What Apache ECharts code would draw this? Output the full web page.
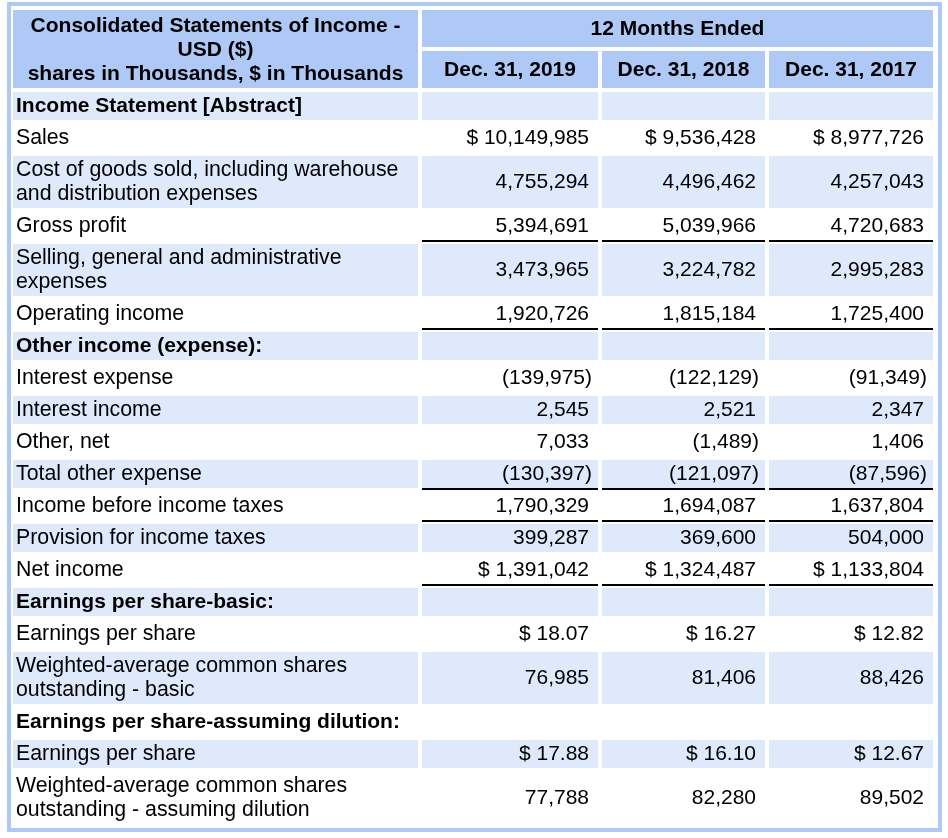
<!DOCTYPE html>
<html><head><meta charset="utf-8">
<script src="https://cdn.jsdelivr.net/npm/echarts@6/dist/echarts.min.js"></script>
<style>html,body{margin:0;padding:0;background:#fff}#c{width:948px;height:838px}</style>
</head><body><div id="c"></div>
<script>
// ---------- data ----------
const titleLines = ['Consolidated Statements of Income -', 'USD ($)', 'shares in Thousands, $ in Thousands'];
const periodHeader = '12 Months Ended';
const periods = ['Dec. 31, 2019', 'Dec. 31, 2018', 'Dec. 31, 2017'];
const rowLabels = [
  'Income Statement [Abstract]',
  'Sales',
  'Cost of goods sold, including warehouse\nand distribution expenses',
  'Gross profit',
  'Selling, general and administrative\nexpenses',
  'Operating income',
  'Other income (expense):',
  'Interest expense',
  'Interest income',
  'Other, net',
  'Total other expense',
  'Income before income taxes',
  'Provision for income taxes',
  'Net income',
  'Earnings per share-basic:',
  'Earnings per share',
  'Weighted-average common shares\noutstanding - basic',
  'Earnings per share-assuming dilution:',
  'Earnings per share',
  'Weighted-average common shares\noutstanding - assuming dilution'
];
const values2019 = [null, 10149985, 4755294, 5394691, 3473965, 1920726, null, -139975, 2545, 7033, -130397, 1790329, 399287, 1391042, null, 18.07, 76985, null, 17.88, 77788];
const values2018 = [null, 9536428, 4496462, 5039966, 3224782, 1815184, null, -122129, 2521, -1489, -121097, 1694087, 369600, 1324487, null, 16.27, 81406, null, 16.10, 82280];
const values2017 = [null, 8977726, 4257043, 4720683, 2995283, 1725400, null, -91349, 2347, 1406, -87596, 1637804, 504000, 1133804, null, 12.82, 88426, null, 12.67, 89502];
const sectionRows = [0, 6, 14, 17];
const dollarRows = [1, 13, 15, 18];
const perShareRows = [15, 18];
const totalRows = [3, 5, 10, 11, 13];

// ---------- style / layout ----------
const FONT = '"Liberation Sans", Arial, Helvetica, sans-serif';
const FS = 21;
const LABEL_FS = 21.3;
const HEAD_BG = '#afc9f6';
const SHADE_BG = '#deeafb';
const TABLE_W = 920, TABLE_H = 814;
const labelCol = [0, 405];
const valueCols = [[409, 585], [589, 752], [756, 920]];
const headRow1 = [0, 37], headRow2 = [41, 78];
const BODY_TOP = 82, GAP = 4, SINGLE_H = 28, DOUBLE_H = 52;

const allValues = [values2019, values2018, values2017];
const rowSpans = [];
(function () {
  let y = BODY_TOP;
  rowLabels.forEach(function (l) {
    const h = l.split('\n').length > 1 ? DOUBLE_H : SINGLE_H;
    rowSpans.push([y, y + h]);
    y += h + GAP;
  });
})();

function fmt(v, r) {
  if (v == null) return '';
  const a = Math.abs(v);
  let s = perShareRows.indexOf(r) >= 0 ? a.toFixed(2) : a.toLocaleString('en-US');
  if (dollarRows.indexOf(r) >= 0) s = '$ ' + s;
  if (v < 0) s = '(' + s + ')';
  return s;
}

function rectFor(api, x0, x1, y0, y1, fill) {
  const p0 = api.coord([x0, y0]), p1 = api.coord([x1, y1]);
  return { type: 'rect', shape: { x: p0[0], y: p0[1], width: p1[0] - p0[0], height: p1[1] - p0[1] }, style: { fill: fill } };
}

const headerCells = [
  { x: labelCol, y: [headRow1[0], headRow2[1]], text: titleLines.join('\n') },
  { x: [valueCols[0][0], valueCols[2][1]], y: headRow1, text: periodHeader },
  { x: valueCols[0], y: headRow2, text: periods[0] },
  { x: valueCols[1], y: headRow2, text: periods[1] },
  { x: valueCols[2], y: headRow2, text: periods[2] }
];

function renderHeader(params, api) {
  const c = headerCells[params.dataIndex];
  const r = rectFor(api, c.x[0], c.x[1], c.y[0], c.y[1], HEAD_BG);
  const mid = api.coord([(c.x[0] + c.x[1]) / 2, (c.y[0] + c.y[1]) / 2]);
  return { type: 'group', children: [r, {
    type: 'text', style: { text: c.text, x: mid[0], y: mid[1] + 1, align: 'center', verticalAlign: 'middle',
      font: 'bold ' + FS + 'px ' + FONT, lineHeight: 24, fill: '#000' }
  }] };
}

function renderRow(params, api) {
  const i = params.dataIndex;
  const span = rowSpans[i];
  const shaded = i % 2 === 0;
  const children = [];
  const fill = shaded ? SHADE_BG : '#ffffff';
  children.push(rectFor(api, labelCol[0], labelCol[1], span[0], span[1], fill));
  valueCols.forEach(function (c) { children.push(rectFor(api, c[0], c[1], span[0], span[1], fill)); });
  const lp = api.coord([labelCol[0] + 3, (span[0] + span[1]) / 2]);
  const bold = sectionRows.indexOf(i) >= 0;
  children.push({ type: 'text', style: { text: rowLabels[i], x: lp[0], y: lp[1] + 0.5, align: 'left', verticalAlign: 'middle',
    font: (bold ? 'bold ' + FS : LABEL_FS) + 'px ' + FONT, lineHeight: 24, fill: '#000' } });
  valueCols.forEach(function (c, k) {
    const v = allValues[k][i];
    if (v == null) return;
    const pad = v < 0 ? 6 : 9;
    const p = api.coord([c[1] - pad, (span[0] + span[1]) / 2]);
    children.push({ type: 'text', style: { text: fmt(v, i), x: p[0], y: p[1] + 0.5, align: 'right', verticalAlign: 'middle',
      font: FS + 'px ' + FONT, fill: '#000' } });
    if (totalRows.indexOf(i) >= 0) {
      const a = api.coord([c[0], span[1] + 1]), b = api.coord([c[1], span[1] + 1]);
      children.push({ type: 'line', shape: { x1: a[0], y1: a[1], x2: b[0], y2: b[1] }, style: { stroke: '#000', lineWidth: 2 } });
    }
  });
  return { type: 'group', children: children };
}

const chart = echarts.init(document.getElementById('c'), null, { renderer: 'canvas' });
chart.setOption({
  animation: false,
  backgroundColor: '#ffffff',
  grid: { left: 13, top: 10, width: TABLE_W, height: TABLE_H },
  xAxis: { type: 'value', min: 0, max: TABLE_W, show: false },
  yAxis: { type: 'value', min: 0, max: TABLE_H, inverse: true, show: false },
  graphic: [{ type: 'rect', shape: { x: 9, y: 4, width: 931, height: 826 }, style: { fill: 'none', stroke: HEAD_BG, lineWidth: 4 }, z: 10 }],
  series: [
    { type: 'custom', name: 'header', data: headerCells.map(function (c, k) { return [k]; }), renderItem: renderHeader, silent: true, clip: false },
    { type: 'custom', name: 'rows', data: rowLabels.map(function (l, k) { return [k]; }), renderItem: renderRow, silent: true, clip: false }
  ]
});
</script></body></html>
